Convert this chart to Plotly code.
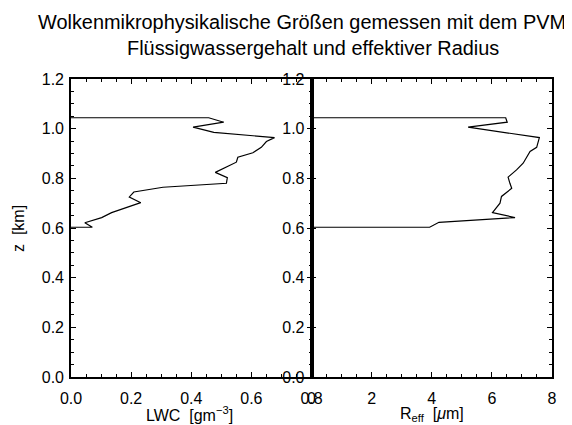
import plotly.graph_objects as go

# Data
z_lwc = [1.044, 1.044, 1.026, 1.006, 0.985, 0.964, 0.948, 0.925, 0.903, 0.885, 0.865,
         0.824, 0.803, 0.780, 0.764, 0.745, 0.725, 0.702, 0.662, 0.642, 0.621, 0.603, 0.603]
lwc = [0.0, 0.458, 0.508, 0.406, 0.475, 0.677, 0.650, 0.633, 0.605, 0.555, 0.550,
       0.480, 0.520, 0.517, 0.306, 0.209, 0.194, 0.232, 0.135, 0.102, 0.046, 0.071, 0.0]

z_reff = [1.044, 1.044, 1.026, 1.006, 0.964, 0.925, 0.908, 0.888, 0.861, 0.834, 0.805,
          0.780, 0.760, 0.727, 0.700, 0.662, 0.642, 0.623, 0.603, 0.603]
reff = [0.0, 6.46, 6.51, 5.21, 7.58, 7.49, 7.27, 7.16, 7.04, 6.82, 6.54,
        6.60, 6.66, 6.32, 6.27, 6.02, 6.77, 4.24, 3.93, 0.0]

title1 = "Wolkenmikrophysikalische Größen gemessen mit dem PVM"
title2 = "Flüssigwassergehalt und effektiver Radius"
xlabel1 = "LWC  [gm<sup>−3</sup>]"
xlabel2 = "R<sub>eff</sub>  [<i>μ</i>m]"
ylabel = "z  [km]"

FONT = "Liberation Sans, Arial, sans-serif"
OFF = 8  # default page margin of the browser
W, H = 572 - OFF, 425 - OFF
ML, MR, MT, MB = 71 - OFF, 20, 79 - OFF, 48

fig = go.Figure()
fig.add_trace(go.Scatter(x=lwc, y=z_lwc, mode="lines", line=dict(color="black", width=1.2),
                         xaxis="x", yaxis="y", showlegend=False))
fig.add_trace(go.Scatter(x=reff, y=z_reff, mode="lines", line=dict(color="black", width=1.2),
                         xaxis="x2", yaxis="y2", showlegend=False))

axis_common = dict(showgrid=False, zeroline=False, showline=True, linecolor="black",
                   linewidth=1.6, mirror="ticks", ticks="inside", ticklen=5, tickwidth=1,
                   tickcolor="black", automargin=False,
                   tickfont=dict(family=FONT, size=16, color="black"))
minor_y = dict(dtick=0.05, ticks="inside", ticklen=3, tickcolor="black")

fig.update_layout(
    width=W, height=H,
    margin=dict(l=ML, r=MR, t=MT, b=MB),
    paper_bgcolor="white", plot_bgcolor="white",
    font=dict(family=FONT, color="black"),
    xaxis=dict(domain=[0, 0.5], range=[0, 0.8], dtick=0.2, tickformat=".1f",
               minor=dict(dtick=0.05, ticks="inside", ticklen=3, tickcolor="black"),
               anchor="y", ticklabelstandoff=6, **axis_common),
    yaxis=dict(domain=[0, 1], range=[0, 1.2], dtick=0.2, tickformat=".1f",
               minor=minor_y, anchor="x", ticklabelstandoff=2, **axis_common),
    xaxis2=dict(domain=[0.5, 1], range=[0, 8], dtick=2, tickformat="d",
                minor=dict(dtick=0.5, ticks="inside", ticklen=3, tickcolor="black"),
                anchor="y2", ticklabelstandoff=6, **axis_common),
    yaxis2=dict(domain=[0, 1], range=[0, 1.2], dtick=0.2, tickformat=".1f",
                minor=minor_y, ticklabelstandoff=2,
                anchor="x2", showticklabels=True, **axis_common),
)

plot_w = W - ML - MR
plot_h = H - MT - MB


def px_to_paper(xpx, ypx):
    return (xpx - 71) / plot_w, (377 - ypx) / plot_h


texts = [
    (title1, 302, 22, 19.9, 0),
    (title2, 313, 48, 19.9, 0),
    (xlabel1, 189, 414, 16, 0),
    (xlabel2, 432, 414, 16, 0),
    (ylabel, 18, 229, 16, -90),
]
for text, xpx, ypx, size, angle in texts:
    xp, yp = px_to_paper(xpx, ypx)
    fig.add_annotation(text=text, x=xp, y=yp, xref="paper", yref="paper",
                       showarrow=False, xanchor="center", yanchor="middle",
                       textangle=angle, font=dict(family=FONT, size=size, color="black"))

fig.write_html("out.html")
